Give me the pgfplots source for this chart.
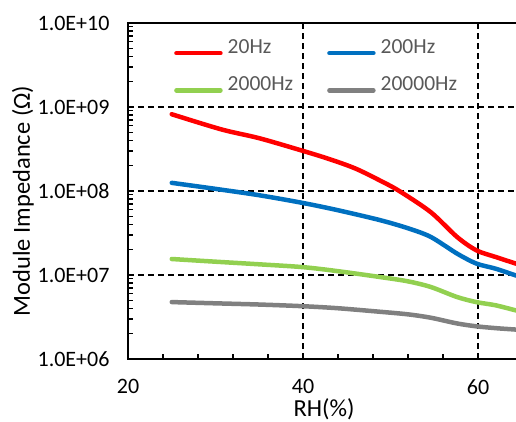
\documentclass[border=0pt]{standalone}
\usepackage{pgfplots}
\pgfplotsset{compat=1.18}
\usepackage{fontspec}
\setmainfont{Carlito}
\definecolor{cred}{HTML}{FF0000}
\definecolor{cblue}{HTML}{0070C0}
\definecolor{cgreen}{HTML}{92D050}
\definecolor{cgray}{HTML}{808080}
\definecolor{ltext}{HTML}{595959}
\begin{document}
\begin{tikzpicture}
\begin{axis}[name=ax, scale only axis, width=392pt, height=336pt,
  xmin=20, xmax=64.8, ymin=1e6, ymax=1e10, ymode=log,
  xtick={20,40,60}, xticklabels={20,40,60}, minor x tick num=4,
  ytick={1e6,1e7,1e8,1e9,1e10},
  yticklabels={1.0E+06,1.0E+07,1.0E+08,1.0E+09,1.0E+10},
  tick align=inside, xtick pos=bottom, ytick pos=left,
  major tick length=6pt, minor tick length=5pt,
  tick style={black, line width=1.3pt},
  axis line style={black, line width=1.6pt},
  grid=major,
  major grid style={black, dash pattern=on 6pt off 4pt, line width=1.3pt},
  ticklabel style={font=\fontsize{22}{26}\selectfont},
  yticklabel style={xshift=-15pt},
  xticklabel style={yshift=-17pt},
  xlabel={RH(\%)}, ylabel={Module Impedance (Ω)},
  label style={font=\fontsize{24.5}{29}\selectfont},
  xlabel style={at={(axis description cs:0.5,0)}, anchor=base, yshift=-58pt},
  ylabel style={at={(axis description cs:-0.268,0.47)}, anchor=center},
  legend columns=2,
  legend image code/.code={\draw[#1, line cap=round] (0pt,0pt) -- (44pt,0pt);},
  legend style={draw=none, fill=none, inner sep=0pt, row sep=21pt,
    at={(rel axis cs:0,1)}, anchor=north west, xshift=46pt, yshift=-16pt,
    font=\fontsize{21.5}{25}\selectfont, text=ltext,
    nodes={inner sep=0pt, anchor=base west},
    /tikz/every odd column/.append style={column sep=5pt},
    /tikz/every even column/.append style={column sep=34pt}},
  every axis plot/.append style={line width=4.5pt, smooth, line cap=round, line join=round},
]
\addplot[cred] coordinates {(25,8.2e8) (30.7,5.4e8) (35,4.25e8) (40,3.0e8) (43,2.4e8) (46,1.85e8) (49,1.3e8) (51,1.0e8) (54.6,5.6e7) (57.6,2.84e7) (59.8,1.97e7) (62,1.64e7) (64.3,1.37e7) (65,1.3e7)};
\addlegendentry{20Hz}
\addplot[cblue] coordinates {(25,1.25e8) (30,1.06e8) (35,8.9e7) (40,7.2e7) (44,5.9e7) (48.8,4.5e7) (52,3.6e7) (54.6,2.84e7) (57.6,1.8e7) (59.8,1.37e7) (62,1.19e7) (64.3,9.9e6) (65,9.5e6)};
\addlegendentry{200Hz}
\addplot[cgreen] coordinates {(25,1.55e7) (30,1.44e7) (35,1.34e7) (40,1.24e7) (44,1.11e7) (48.8,9.46e6) (52,8.4e6) (54.6,7.2e6) (57.6,5.47e6) (59.8,4.76e6) (62,4.36e6) (64.3,3.8e6) (65,3.7e6)};
\addlegendentry{2000Hz}
\addplot[cgray] coordinates {(25,4.76e6) (30,4.6e6) (35,4.45e6) (40,4.25e6) (44,4.02e6) (48.8,3.65e6) (52,3.4e6) (54.6,3.1e6) (57.6,2.65e6) (59.8,2.45e6) (62,2.33e6) (64.3,2.24e6) (65,2.2e6)};
\addlegendentry{20000Hz}
\end{axis}
\pgfresetboundingbox
\path[use as bounding box] ([xshift=-128pt,yshift=-63pt]ax.south west) rectangle ([xshift=388pt,yshift=23pt]ax.north west);
\end{tikzpicture}
\end{document}
